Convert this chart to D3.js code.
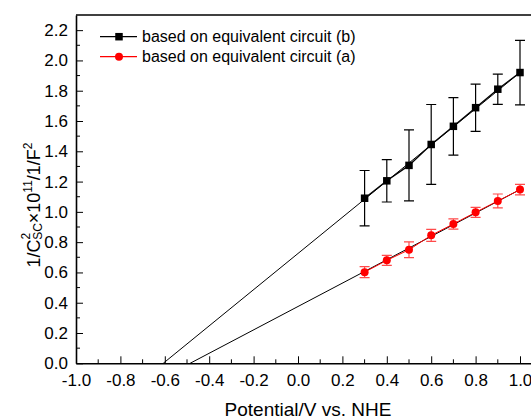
<!DOCTYPE html>
<html>
<head>
<meta charset="utf-8">
<script src="https://cdn.jsdelivr.net/npm/d3@7"></script>
<style>
    body { margin: 0; background: #fff; }
    text { font-family: Arial, "Liberation Sans", sans-serif; }
</style>
</head>
<body>
<div id="chart"></div>
<script>
// potentials (V vs NHE)
let potential = [0.3, 0.4, 0.5, 0.6, 0.7, 0.8, 0.9, 1.0];

// circuit (b) - black squares
let circuitB = [1.09, 1.205, 1.307, 1.445, 1.565, 1.688, 1.81, 1.92];
let errB = [0.183, 0.14, 0.235, 0.264, 0.19, 0.156, 0.1, 0.213];

// circuit (a) - red circles
let circuitA = [0.602, 0.68, 0.75, 0.845, 0.92, 0.997, 1.072, 1.147];
let errA = [0.036, 0.033, 0.052, 0.04, 0.034, 0.033, 0.046, 0.035];

// linear fits, drawn from x-intercept out to 1.0
let fitB = [[-0.607, 0], [1.0, 1.92]];
let fitA = [[-0.486, 0], [1.0, 1.147]];

let xTicks = [-1.0, -0.8, -0.6, -0.4, -0.2, 0.0, 0.2, 0.4, 0.6, 0.8, 1.0];
let yTicks = [0.0, 0.2, 0.4, 0.6, 0.8, 1.0, 1.2, 1.4, 1.6, 1.8, 2.0, 2.2];
let legendLabels = ['based on equivalent circuit (b)', 'based on equivalent circuit (a)'];

let w = 531,
    h = 420;
let margin = { top: 15, right: -12, bottom: 57, left: 76 };

let svg = d3.select('#chart').append('svg')
    .attr('width', w)
    .attr('height', h)
    .style('display', 'block');

let x = d3.scaleLinear()
    .domain([-1.0, 1.1])
    .range([margin.left, margin.left + 2.1 * 222]);

let y = d3.scaleLinear()
    .domain([0, 2.3])
    .range([h - margin.bottom + 0.3, margin.top]);

// plain hyphen instead of d3's unicode minus
let fmt = d => d3.format('.1f')(d).replace('\u2212', '-');

// frame: top line (right side falls outside the picture)
svg.append('line')
    .attr('x1', x(-1.0)).attr('x2', x(1.1))
    .attr('y1', y(2.3)).attr('y2', y(2.3))
    .attr('stroke', '#000').attr('stroke-width', 1.6);

// x axis, ticks inward
let xAxis = svg.append('g')
    .attr('transform', `translate(0,${y(0)})`)
    .call(d3.axisBottom(x).tickValues(xTicks).tickFormat(fmt).tickSizeInner(-7).tickSizeOuter(0));

let xMinor = d3.range(-9, 11, 2).map(d => d / 10);
xAxis.selectAll('.minor')
    .data(xMinor)
    .enter().append('line')
    .attr('class', 'minor')
    .attr('x1', d => x(d)).attr('x2', d => x(d))
    .attr('y1', 0).attr('y2', -4)
    .attr('stroke', '#000');

// y axis, ticks inward
let yAxis = svg.append('g')
    .attr('transform', `translate(${x(-1.0)},0)`)
    .call(d3.axisLeft(y).tickValues(yTicks).tickFormat(fmt).tickSizeInner(-7).tickSizeOuter(0));

let yMinor = d3.range(1, 23, 2).map(d => d / 10);
yAxis.selectAll('.minor')
    .data(yMinor)
    .enter().append('line')
    .attr('class', 'minor')
    .attr('x1', 0).attr('x2', 4)
    .attr('y1', d => y(d)).attr('y2', d => y(d))
    .attr('stroke', '#000');

[xAxis, yAxis].forEach(function(a) {
    a.select('.domain').attr('stroke', '#000').attr('stroke-width', 1.6);
    a.selectAll('.tick line').attr('stroke', '#000');
    a.selectAll('.tick text')
        .attr('fill', '#000')
        .style('font-size', '17px');
});
xAxis.selectAll('.tick text').attr('y', 11);
yAxis.selectAll('.tick text').attr('x', -8);

// axis titles
svg.append('text')
    .attr('x', 308)
    .attr('y', 416)
    .attr('text-anchor', 'middle')
    .style('font-size', '19px')
    .text('Potential/V vs. NHE');

let yt = svg.append('text')
    .attr('transform', 'translate(40,205) rotate(-90)')
    .attr('text-anchor', 'middle')
    .style('font-size', '18px');
yt.append('tspan').text('1/C');
yt.append('tspan').attr('dy', -10).style('font-size', '12px').text('2');
yt.append('tspan').attr('dx', -7).attr('dy', 12).style('font-size', '12px').text('SC');
yt.append('tspan').attr('dy', -2).text('\u00d710');
yt.append('tspan').attr('dy', -8).style('font-size', '12px').text('11');
yt.append('tspan').attr('dy', 8).text('/1/F');
yt.append('tspan').attr('dy', -8).style('font-size', '12px').text('2');

let line = d3.line()
    .x(d => x(d[0]))
    .y(d => y(d[1]));

// fit lines
[fitB, fitA].forEach(function(f) {
    svg.append('path')
        .attr('d', line(f))
        .attr('fill', 'none')
        .attr('stroke', '#000')
        .attr('stroke-width', 1);
});

let seriesB = potential.map((p, i) => [p, circuitB[i], errB[i]]);
let seriesA = potential.map((p, i) => [p, circuitA[i], errA[i]]);

function errorBars(data, color) {
    let g = svg.append('g').attr('stroke', color).attr('stroke-width', 1.2);
    g.selectAll('.bar')
        .data(data)
        .enter().append('path')
        .attr('class', 'bar')
        .attr('fill', 'none')
        .attr('d', function(d) {
            let cx = x(d[0]), top = y(d[1] + d[2]), bot = y(d[1] - d[2]);
            return `M${cx - 5},${top}H${cx + 5}M${cx},${top}V${bot}M${cx - 5},${bot}H${cx + 5}`;
        });
}

// circuit (a)
errorBars(seriesA, '#ff4a4a');
svg.append('path')
    .attr('d', line(seriesA))
    .attr('fill', 'none')
    .attr('stroke', '#ff0000')
    .attr('stroke-width', 1);
svg.selectAll('.dotA')
    .data(seriesA)
    .enter().append('circle')
    .attr('class', 'dotA')
    .attr('cx', d => x(d[0]))
    .attr('cy', d => y(d[1]))
    .attr('r', 4)
    .attr('fill', '#ff0000');

// circuit (b)
errorBars(seriesB, '#000');
svg.append('path')
    .attr('d', line(seriesB))
    .attr('fill', 'none')
    .attr('stroke', '#000')
    .attr('stroke-width', 1.3);
svg.selectAll('.dotB')
    .data(seriesB)
    .enter().append('rect')
    .attr('class', 'dotB')
    .attr('x', d => x(d[0]) - 3.75)
    .attr('y', d => y(d[1]) - 3.75)
    .attr('width', 7.5)
    .attr('height', 7.5)
    .attr('fill', '#000');

// legend
let legend = svg.append('g');
let legendColors = ['#000', '#ff0000'];
legendLabels.forEach(function(label, i) {
    let ly = 36.7 + i * 20;
    legend.append('line')
        .attr('x1', 100).attr('x2', 137)
        .attr('y1', ly).attr('y2', ly)
        .attr('stroke', legendColors[i])
        .attr('stroke-width', 1.2);
    if (i === 0) {
        legend.append('rect')
            .attr('x', 119 - 3.75).attr('y', ly - 3.75)
            .attr('width', 7.5).attr('height', 7.5)
            .attr('fill', '#000');
    } else {
        legend.append('circle')
            .attr('cx', 119).attr('cy', ly).attr('r', 4)
            .attr('fill', '#ff0000');
    }
    legend.append('text')
        .attr('x', 142)
        .attr('y', ly + 5.5)
        .style('font-size', '16px')
        .text(label);
});
</script>
</body>
</html>
